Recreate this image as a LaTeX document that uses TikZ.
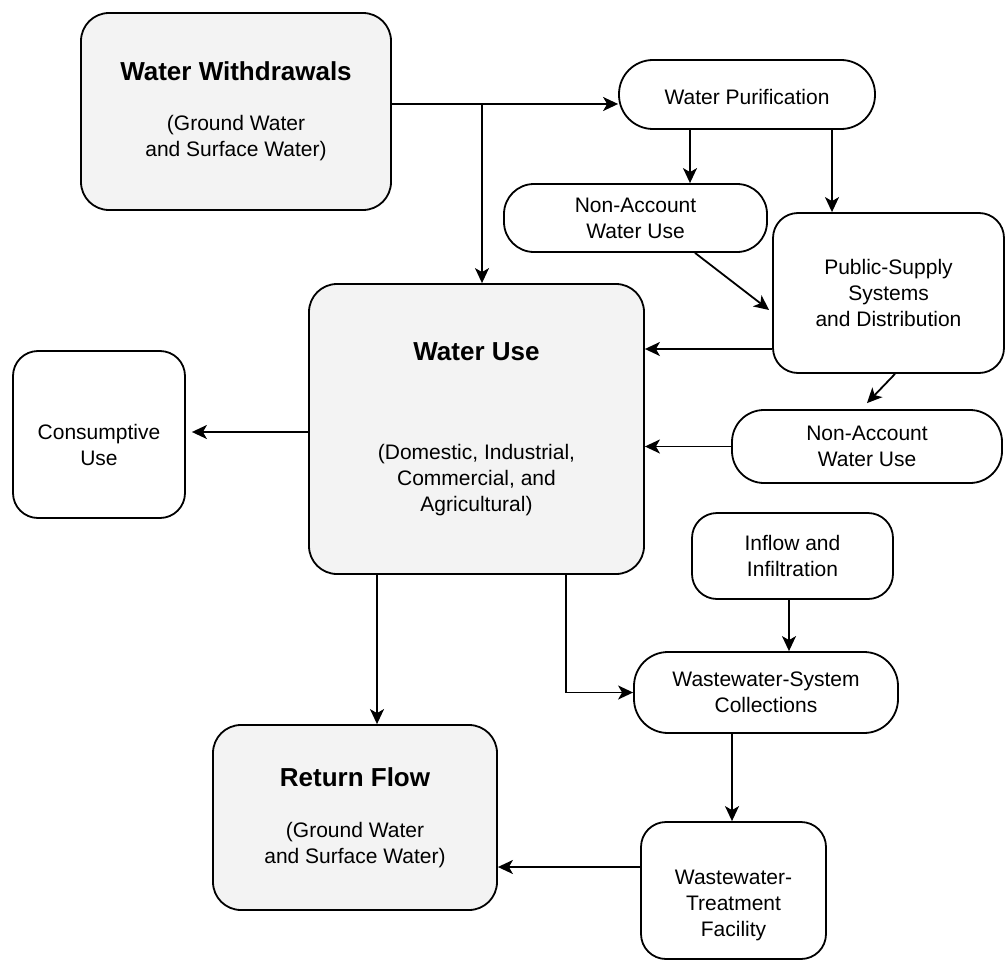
\documentclass[tikz,border=0pt]{standalone}
\usepackage{fontspec}
\setmainfont{Liberation Sans}
\usetikzlibrary{arrows.meta}
\definecolor{fillg}{RGB}{243,243,243}
\newcommand\mytitle[1]{{\bfseries\fontsize{26}{31}\selectfont #1}}
\newcommand\mystrut[1]{\rule{0pt}{#1}}
\begin{document}
\begin{tikzpicture}[x=1pt,y=-1pt,
  box/.style={draw=black, line width=1.8pt, rounded corners=#1, inner sep=0pt, align=center,
    font=\fontsize{21}{26}\selectfont},
  box/.default=25pt,
  gbox/.style={box=#1, fill=fillg},
  gbox/.default=28pt,
  arr/.style={-{Stealth[length=15pt,width=14pt,inset=4pt]}, line width=1.8pt},
]
\fill[white] (0,0) rectangle (1006,963);
\useasboundingbox (0,0) rectangle (1006,963);

% nodes
\node[gbox, minimum width=310pt, minimum height=197pt] (ww) at (236,111.5)
  {\mytitle{Water Withdrawals}\\[24pt](Ground Water\\and Surface Water)};
\node[box=34pt, minimum width=256pt, minimum height=69pt] (wp) at (747,94.5) {\mystrut{21pt}Water Purification};
\node[box=30pt, minimum width=263pt, minimum height=68pt] (na1) at (635.5,218) {Non-Account\\Water Use};
\node[box, minimum width=231pt, minimum height=160pt] (ps) at (888.5,293) {Public-Supply\\Systems\\and Distribution};
\node[gbox, minimum width=335pt, minimum height=290pt] (wu) at (476.5,429)
  {\mytitle{Water Use}\\[73pt](Domestic, Industrial,\\Commercial, and\\Agricultural)};
\node[box, minimum width=172pt, minimum height=167pt] (cu) at (99,434.5) {\mystrut{36pt}Consumptive\\Use};
\node[box=32pt, minimum width=270pt, minimum height=73pt] (na2) at (867,446.5) {Non-Account\\Water Use};
\node[box, minimum width=201pt, minimum height=86pt] (inf) at (792.5,556) {Inflow and\\Infiltration};
\node[box=34pt, minimum width=264pt, minimum height=81pt] (wsc) at (766,692.5) {Wastewater-System\\Collections};
\node[gbox, minimum width=284pt, minimum height=185pt] (rf) at (355,817.5)
  {\mytitle{Return Flow}\\[25pt](Ground Water\\and Surface Water)};
\node[box, minimum width=185pt, minimum height=137pt] (wtf) at (733.5,890.5) {\mystrut{45pt}Wastewater-\\Treatment\\Facility};

% connectors
\coordinate (j1) at (482,104);
\draw[arr] (ww.east |- j1) -- (wp.west |- j1);
\draw[arr] (j1) -- (j1 |- wu.north);
\draw[arr] ([xshift=-57pt]wp.south) -- ([xshift=-57pt]wp.south |- na1.north);
\draw[arr] ([xshift=85pt]wp.south) -- ([xshift=85pt]wp.south |- ps.north);
\draw[arr] ([xshift=59.5pt]na1.south) -- ([xshift=-3pt,yshift=-17pt]ps.west);
\draw[arr] ([yshift=-56pt]ps.west) -- ([yshift=-56pt]ps.west -| wu.east);
\draw[arr] ([xshift=6.5pt]ps.south) -- ([yshift=6pt]na2.north);
\draw[arr] (na2.west) -- (na2.west -| wu.east);
\draw[arr, shorten >=6pt] ([yshift=-3pt]wu.west) -- ([yshift=-3pt]wu.west -| cu.east);
\draw[arr] ([xshift=-99.5pt]wu.south) -- ([xshift=-99.5pt]wu.south |- rf.north);
\draw[arr] ([xshift=89.5pt]wu.south) |- (wsc.west);
\draw[arr] ([xshift=-3.5pt]inf.south) -- ([xshift=-3.5pt]inf.south |- wsc.north);
\draw[arr] ([xshift=-34pt]wsc.south) -- ([xshift=-34pt]wsc.south |- wtf.north);
\draw[arr] ([yshift=23.5pt]wtf.west) -- ([yshift=23.5pt]wtf.west -| rf.east);
\end{tikzpicture}
\end{document}
